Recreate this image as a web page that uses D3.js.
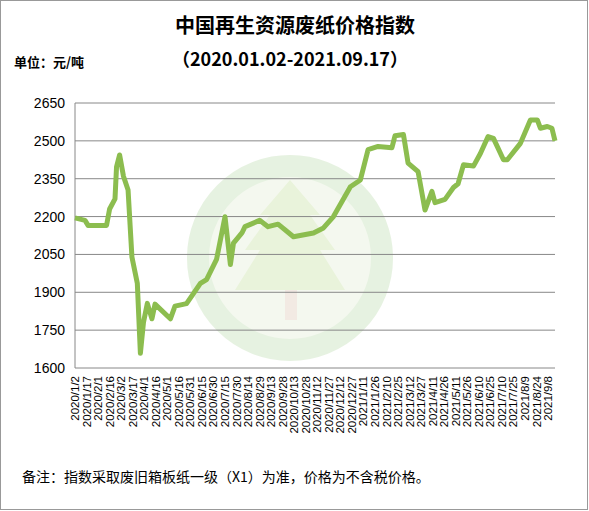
<!DOCTYPE html><html><head><meta charset="utf-8"><script src="https://d3js.org/d3.v7.min.js"></script>
<style>body{margin:0;background:#fff}</style></head><body><svg id="c" width="589" height="511"></svg>
<script>
const dates=["2020-01-02","2020-01-15","2020-01-19","2020-02-12","2020-02-16","2020-02-23","2020-02-25","2020-02-29","2020-03-05","2020-03-11","2020-03-16","2020-03-23","2020-03-27","2020-03-31","2020-04-05","2020-04-11","2020-04-15","2020-05-05","2020-05-11","2020-05-26","2020-06-13","2020-06-21","2020-07-04","2020-07-15","2020-07-22","2020-07-26","2020-08-06","2020-08-10","2020-08-29","2020-09-09","2020-09-22","2020-10-12","2020-11-07","2020-11-20","2020-12-03","2020-12-25","2021-01-07","2021-01-17","2021-01-30","2021-02-17","2021-02-21","2021-03-04","2021-03-10","2021-03-23","2021-04-01","2021-04-10","2021-04-14","2021-04-27","2021-05-08","2021-05-14","2021-05-21","2021-06-03","2021-06-12","2021-06-22","2021-06-29","2021-07-12","2021-07-17","2021-08-03","2021-08-16","2021-08-25","2021-08-29","2021-09-07","2021-09-13","2021-09-17"];
const values=[2195,2185,2165,2165,2230,2270,2397,2444,2360,2305,2040,1936,1658,1780,1856,1795,1853,1795,1845,1855,1935,1950,2030,2199,2010,2095,2135,2160,2185,2160,2170,2120,2135,2155,2200,2318,2345,2465,2478,2473,2520,2525,2412,2378,2226,2300,2255,2268,2315,2330,2405,2400,2450,2517,2510,2425,2425,2490,2583,2583,2550,2557,2550,2500];
const yTicks=[1600,1750,1900,2050,2200,2350,2500,2650];
const tickStart="2020-01-02", tickEnd="2021-09-08";
const svg=d3.select("#c");
const p=d3.timeParse("%Y-%m-%d");
svg.append("rect").attr("x",0.5).attr("y",0.5).attr("width",587).attr("height",509).attr("fill","#fff").attr("stroke","#999");
const x=d3.scaleTime().domain([p("2020-01-02"),p("2021-09-17")]).range([75,555]);
const y=d3.scaleLinear().domain([1600,2650]).range([368,103]);
const wm=svg.append("g").attr("opacity",0.5);
wm.append("circle").attr("cx",290).attr("cy",258).attr("r",92).attr("fill","#eaf3e0").attr("stroke","#cfe6c4").attr("stroke-width",22);
wm.append("path").attr("d","M290,180 L320,215 L310,215 L335,250 L320,250 L345,290 L235,290 L260,250 L245,250 L270,215 L260,215 Z").attr("fill","#d5e8b8");
wm.append("rect").attr("x",285).attr("y",290).attr("width",12).attr("height",30).attr("fill","#e6d6c8");
svg.append("g").selectAll("line").data(yTicks).join("line").attr("x1",75).attr("x2",555).attr("y1",d=>y(d)).attr("y2",d=>y(d)).attr("stroke","#888").attr("stroke-width",1);
svg.append("line").attr("x1",75).attr("x2",75).attr("y1",103).attr("y2",368).attr("stroke","#888");
svg.append("g").selectAll("text").data(yTicks).join("text").attr("x",65).attr("y",d=>y(d)+5).attr("text-anchor","end").attr("font-family","Liberation Sans, Arial").attr("font-size",14).text(d=>d);
const ticks=d3.timeDay.range(p(tickStart),d3.timeDay.offset(p(tickEnd),1)).filter((d,i)=>i%15===0);
const fmt=d=>`${d.getFullYear()}/${d.getMonth()+1}/${d.getDate()}`;
svg.append("g").selectAll("text").data(ticks).join("text").attr("transform",d=>`translate(${x(d)+4},376) rotate(-90)`).attr("text-anchor","end").attr("font-family","Liberation Sans, Arial").attr("font-size",11.5).text(fmt);
const data=dates.map((d,i)=>({d:p(d),v:values[i]}));
svg.append("path").datum(data).attr("d",d3.line().x(d=>x(d.d)).y(d=>y(d.v))).attr("fill","none").attr("stroke","#8cbd4f").attr("stroke-width",5).attr("stroke-linejoin","round");
const f="'Noto Sans CJK SC', sans-serif";
svg.append("text").attr("x",295).attr("y",33).attr("text-anchor","middle").attr("font-family",f).attr("font-weight","bold").attr("font-size",20).text("中国再生资源废纸价格指数");
svg.append("text").attr("x",290).attr("y",66).attr("text-anchor","middle").attr("font-family",f).attr("font-weight","bold").attr("font-size",18).text("（2020.01.02-2021.09.17）");
svg.append("text").attr("x",14).attr("y",67).attr("font-family",f).attr("font-weight","bold").attr("font-size",13).text("单位：元/吨");
svg.append("text").attr("x",22).attr("y",482).attr("font-family",f).attr("font-size",14).text("备注：指数采取废旧箱板纸一级（X1）为准，价格为不含税价格。");
</script></body></html>
